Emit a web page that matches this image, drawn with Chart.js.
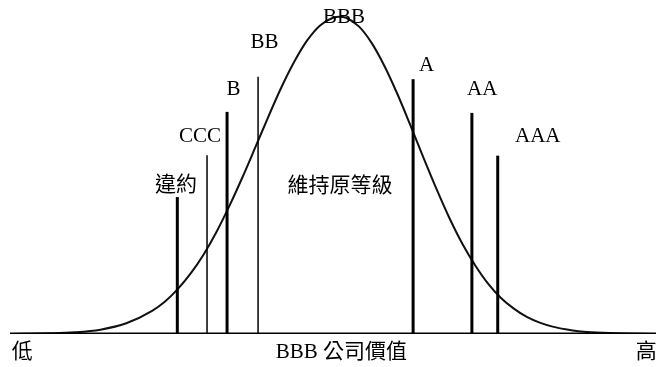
<!DOCTYPE html>
<html>
<head>
<meta charset="utf-8">
<script src="https://cdn.jsdelivr.net/npm/chart.js@4"></script>
<style>
    html, body { margin: 0; padding: 0; background: #fff; }
    #wrap { width: 656px; height: 367px; }
</style>
</head>
<body>
<div id="wrap"><canvas id="chart"></canvas></div>
<script>
// BBB 公司價值分布曲線 (x: 公司價值, y: 機率密度)
const curveX = [0, 6, 10, 14, 18, 22, 24, 26, 28, 30, 32, 34, 36, 38, 40, 42, 44, 46, 48, 50, 51, 52, 54, 56, 58, 60, 62, 64, 66, 68, 70, 72, 74, 76, 78, 80, 82, 84, 86, 88, 90, 94, 100];
const curveY = [0, 0.2, 0.5, 1.3, 3.2, 6.9, 9.7, 13.5, 18.2, 23.9, 30.7, 38.5, 47.0, 56.0, 65.1, 73.8, 81.5, 87.9, 92.4, 94.7, 95.0, 94.7, 92.1, 87.1, 80.1, 71.7, 62.4, 52.8, 43.5, 34.8, 27.1, 20.6, 15.1, 10.8, 7.6, 5.1, 3.4, 2.2, 1.4, 0.8, 0.5, 0.2, 0];

// 等級門檻
const ratingNames = ['違約', 'CCC', 'B', 'BB', 'A', 'AA', 'AAA'];
const thresholdX = [25.9, 30.5, 33.6, 38.4, 62.4, 71.5, 75.5];
const thresholdTop = [41.0, 53.5, 66.5, 77.0, 76.3, 66.2, 53.4];
const thresholdWidth = [3, 1.5, 3, 1.5, 3, 3, 3];

// 文字標籤
const labelText = ['違約', 'CCC', 'B', 'BB', 'BBB', 'A', 'AA', 'AAA', '維持原等級'];
const labelX = [25.7, 29.4, 34.6, 39.4, 51.7, 64.5, 73.1, 81.7, 51.1];
const labelY = [44.6, 59.0, 73.1, 87.4, 94.8, 80.5, 73.1, 59.0, 44.3];

const axisText = ['低', 'BBB 公司價值', '高'];
const axisX = [1.9, 51.3, 98.5];
const axisY = -5.4;

const datasets = [];

// 水平基線
datasets.push({
    data: [{ x: 0, y: 0 }, { x: 100, y: 0 }],
    borderColor: '#000',
    borderWidth: 3,
    showLine: true,
    pointRadius: 0
});

thresholdX.forEach((x, i) => {
    datasets.push({
        label: ratingNames[i],
        data: [{ x: x, y: 0 }, { x: x, y: thresholdTop[i] }],
        borderColor: '#000',
        borderWidth: thresholdWidth[i],
        borderCapStyle: 'butt',
        showLine: true,
        pointRadius: 0
    });
});

datasets.push({
    label: 'BBB',
    data: curveX.map((x, i) => ({ x: x, y: curveY[i] })),
    borderColor: '#111',
    borderWidth: 2,
    showLine: true,
    pointRadius: 0,
    cubicInterpolationMode: 'monotone'
});

const textPlugin = {
    id: 'textLabels',
    afterDatasetsDraw(chart) {
        const ctx = chart.ctx;
        const xs = chart.scales.x;
        const ys = chart.scales.y;
        ctx.save();
        ctx.fillStyle = '#000';
        ctx.font = '21px "Liberation Serif", "Noto Sans CJK TC", serif';
        ctx.textAlign = 'center';
        ctx.textBaseline = 'middle';
        labelText.forEach((t, i) => {
            ctx.fillText(t, xs.getPixelForValue(labelX[i]), ys.getPixelForValue(labelY[i]));
        });
        axisText.forEach((t, i) => {
            ctx.fillText(t, xs.getPixelForValue(axisX[i]), ys.getPixelForValue(axisY));
        });
        ctx.restore();
    }
};

new Chart(document.getElementById('chart').getContext('2d'), {
    type: 'scatter',
    data: { datasets: datasets },
    options: {
        responsive: true,
        maintainAspectRatio: false,
        animation: false,
        layout: { padding: { left: 10, right: 0, top: 0, bottom: 33 } },
        plugins: {
            legend: { display: false },
            tooltip: { enabled: false }
        },
        scales: {
            x: { type: 'linear', min: 0, max: 100, display: false },
            y: { type: 'linear', min: 0, max: 100, display: false }
        }
    },
    plugins: [textPlugin]
});
</script>
</body>
</html>
